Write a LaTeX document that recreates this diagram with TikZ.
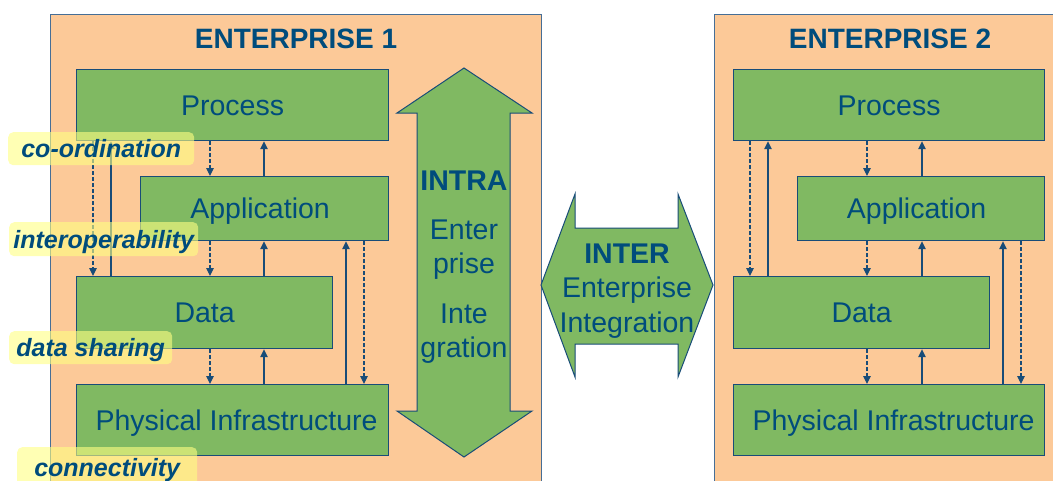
\documentclass[tikz,border=0pt]{standalone}
\usepackage{fontspec}
\setmainfont{Liberation Sans}
\usetikzlibrary{arrows.meta}
\definecolor{peach}{RGB}{252,201,152}
\definecolor{leaf}{RGB}{128,185,98}
\definecolor{ink}{RGB}{0,76,124}
\definecolor{edge}{RGB}{24,76,120}
\definecolor{frame}{RGB}{70,110,150}
\definecolor{hilite}{RGB}{255,255,130}
\tikzset{
  ent/.style={draw=frame, line width=1.2pt, fill=peach, anchor=north west, inner sep=0pt},
  layer/.style={draw=edge, line width=1.2pt, fill=leaf, text=ink, font=\fontsize{28.5}{33}\selectfont,
    inner sep=0pt, text height=20.4pt, text depth=0pt, anchor=north west},
  tag/.style={fill=hilite, fill opacity=0.6, text opacity=1, text=ink, rounded corners=5pt,
    font=\fontsize{25}{30}\selectfont\bfseries\itshape, inner sep=0pt, text height=18pt,
    text depth=0pt, anchor=north west},
  upline/.style={draw=edge, line width=1.1pt, -{Triangle[length=8pt,width=7.5pt]}},
  downline/.style={upline, dash pattern=on 3.5pt off 2.5pt},
  bigarrow/.style={draw=edge, line width=1pt, fill=leaf, line join=miter},
  words/.style={text=ink, font=\fontsize{28.5}{33}\selectfont, inner sep=0pt, anchor=base},
  title/.style={words, font=\fontsize{28}{33}\selectfont\bfseries},
  bigtitle/.style={words, font=\fontsize{28.5}{33}\selectfont\bfseries},
}
\begin{document}
\begin{tikzpicture}[x=1pt,y=-1pt]
\useasboundingbox (0,0) rectangle (1053,480);
\clip (0,0) rectangle (1053,480);
% enterprise frames
\node[ent, minimum width=491pt, minimum height=480pt] (e1) at (50,14) {};
\node[ent, minimum width=352pt, minimum height=480pt] (e2) at (714,14) {};
\node[title] (t1) at (296,48) {ENTERPRISE 1};
\node[title] (t2) at (890,48) {ENTERPRISE 2};
% big arrows
\draw[bigarrow] (464,68) -- (532,113) -- (510,113) -- (510,411) -- (532,411) -- (464,457)
  -- (397,411) -- (417,411) -- (417,113) -- (397,113) -- cycle;
\node[bigtitle] (intra) at (464,190) {INTRA};
\node[words] (intra2) at (464,239) {Enter};
\node[words] (intra3) at (464,273) {prise};
\node[words] (intra4) at (464,323) {Inte};
\node[words] (intra5) at (464,357) {gration};
\draw[bigarrow] (541,285) -- (575,194) -- (575,228) -- (678,228) -- (678,194) -- (713,285)
  -- (678,377) -- (678,344) -- (575,344) -- (575,377) -- cycle;
\node[bigtitle] (inter) at (627,263) {INTER};
\node[words] (inter2) at (627,297) {Enterprise};
\node[words] (inter3) at (627,332) {Integration};
% enterprise 1 layers
\node[layer, minimum width=312pt, minimum height=71pt] (p1) at (76,69) {Process};
\node[layer, minimum width=248pt, minimum height=64pt] (a1) at (140,176) {Application\hspace*{9pt}};
\node[layer, minimum width=256pt, minimum height=72pt] (d1) at (76,276) {Data};
\node[layer, minimum width=312pt, minimum height=71pt] (f1) at (76,384) {\hspace*{8pt}Physical Infrastructure};
% enterprise 2 layers
\node[layer, minimum width=311pt, minimum height=71pt] (p2) at (733,69) {Process};
\node[layer, minimum width=247pt, minimum height=64pt] (a2) at (797,176) {Application\hspace*{9pt}};
\node[layer, minimum width=256pt, minimum height=72pt] (d2) at (733,276) {Data};
\node[layer, minimum width=311pt, minimum height=71pt] (f2) at (733,384) {\hspace*{9pt}Physical Infrastructure};
% connectors enterprise 1
\draw[downline] (93,0 |- p1.south) -- (93,0 |- d1.north);
\draw[upline] (111,0 |- d1.north) -- (111,0 |- p1.south);
\draw[downline] (210,0 |- p1.south) -- (210,0 |- a1.north);
\draw[upline] (264,0 |- a1.north) -- (264,0 |- p1.south);
\draw[downline] (210,0 |- a1.south) -- (210,0 |- d1.north);
\draw[upline] (264,0 |- d1.north) -- (264,0 |- a1.south);
\draw[downline] (210,0 |- d1.south) -- (210,0 |- f1.north);
\draw[upline] (264,0 |- f1.north) -- (264,0 |- d1.south);
\draw[upline] (346,0 |- f1.north) -- (346,0 |- a1.south);
\draw[downline] (364,0 |- a1.south) -- (364,0 |- f1.north);
% connectors enterprise 2
\draw[downline] (750,0 |- p2.south) -- (750,0 |- d2.north);
\draw[upline] (768,0 |- d2.north) -- (768,0 |- p2.south);
\draw[downline] (867,0 |- p2.south) -- (867,0 |- a2.north);
\draw[upline] (922,0 |- a2.north) -- (922,0 |- p2.south);
\draw[downline] (867,0 |- a2.south) -- (867,0 |- d2.north);
\draw[upline] (922,0 |- d2.north) -- (922,0 |- a2.south);
\draw[downline] (867,0 |- d2.south) -- (867,0 |- f2.north);
\draw[upline] (922,0 |- f2.north) -- (922,0 |- d2.south);
\draw[upline] (1003,0 |- f2.north) -- (1003,0 |- a2.south);
\draw[downline] (1021,0 |- a2.south) -- (1021,0 |- f2.north);
% tags
\node[tag, minimum width=186pt, minimum height=33pt] (g1) at (8,132) {co-ordination};
\node[tag, minimum width=189pt, minimum height=34pt] (g2) at (9,222) {interoperability};
\node[tag, minimum width=163pt, minimum height=33pt] (g3) at (9,331) {data sharing};
\node[tag, minimum width=180pt, minimum height=40pt] (g4) at (17,447) {connectivity};
\end{tikzpicture}
\end{document}
